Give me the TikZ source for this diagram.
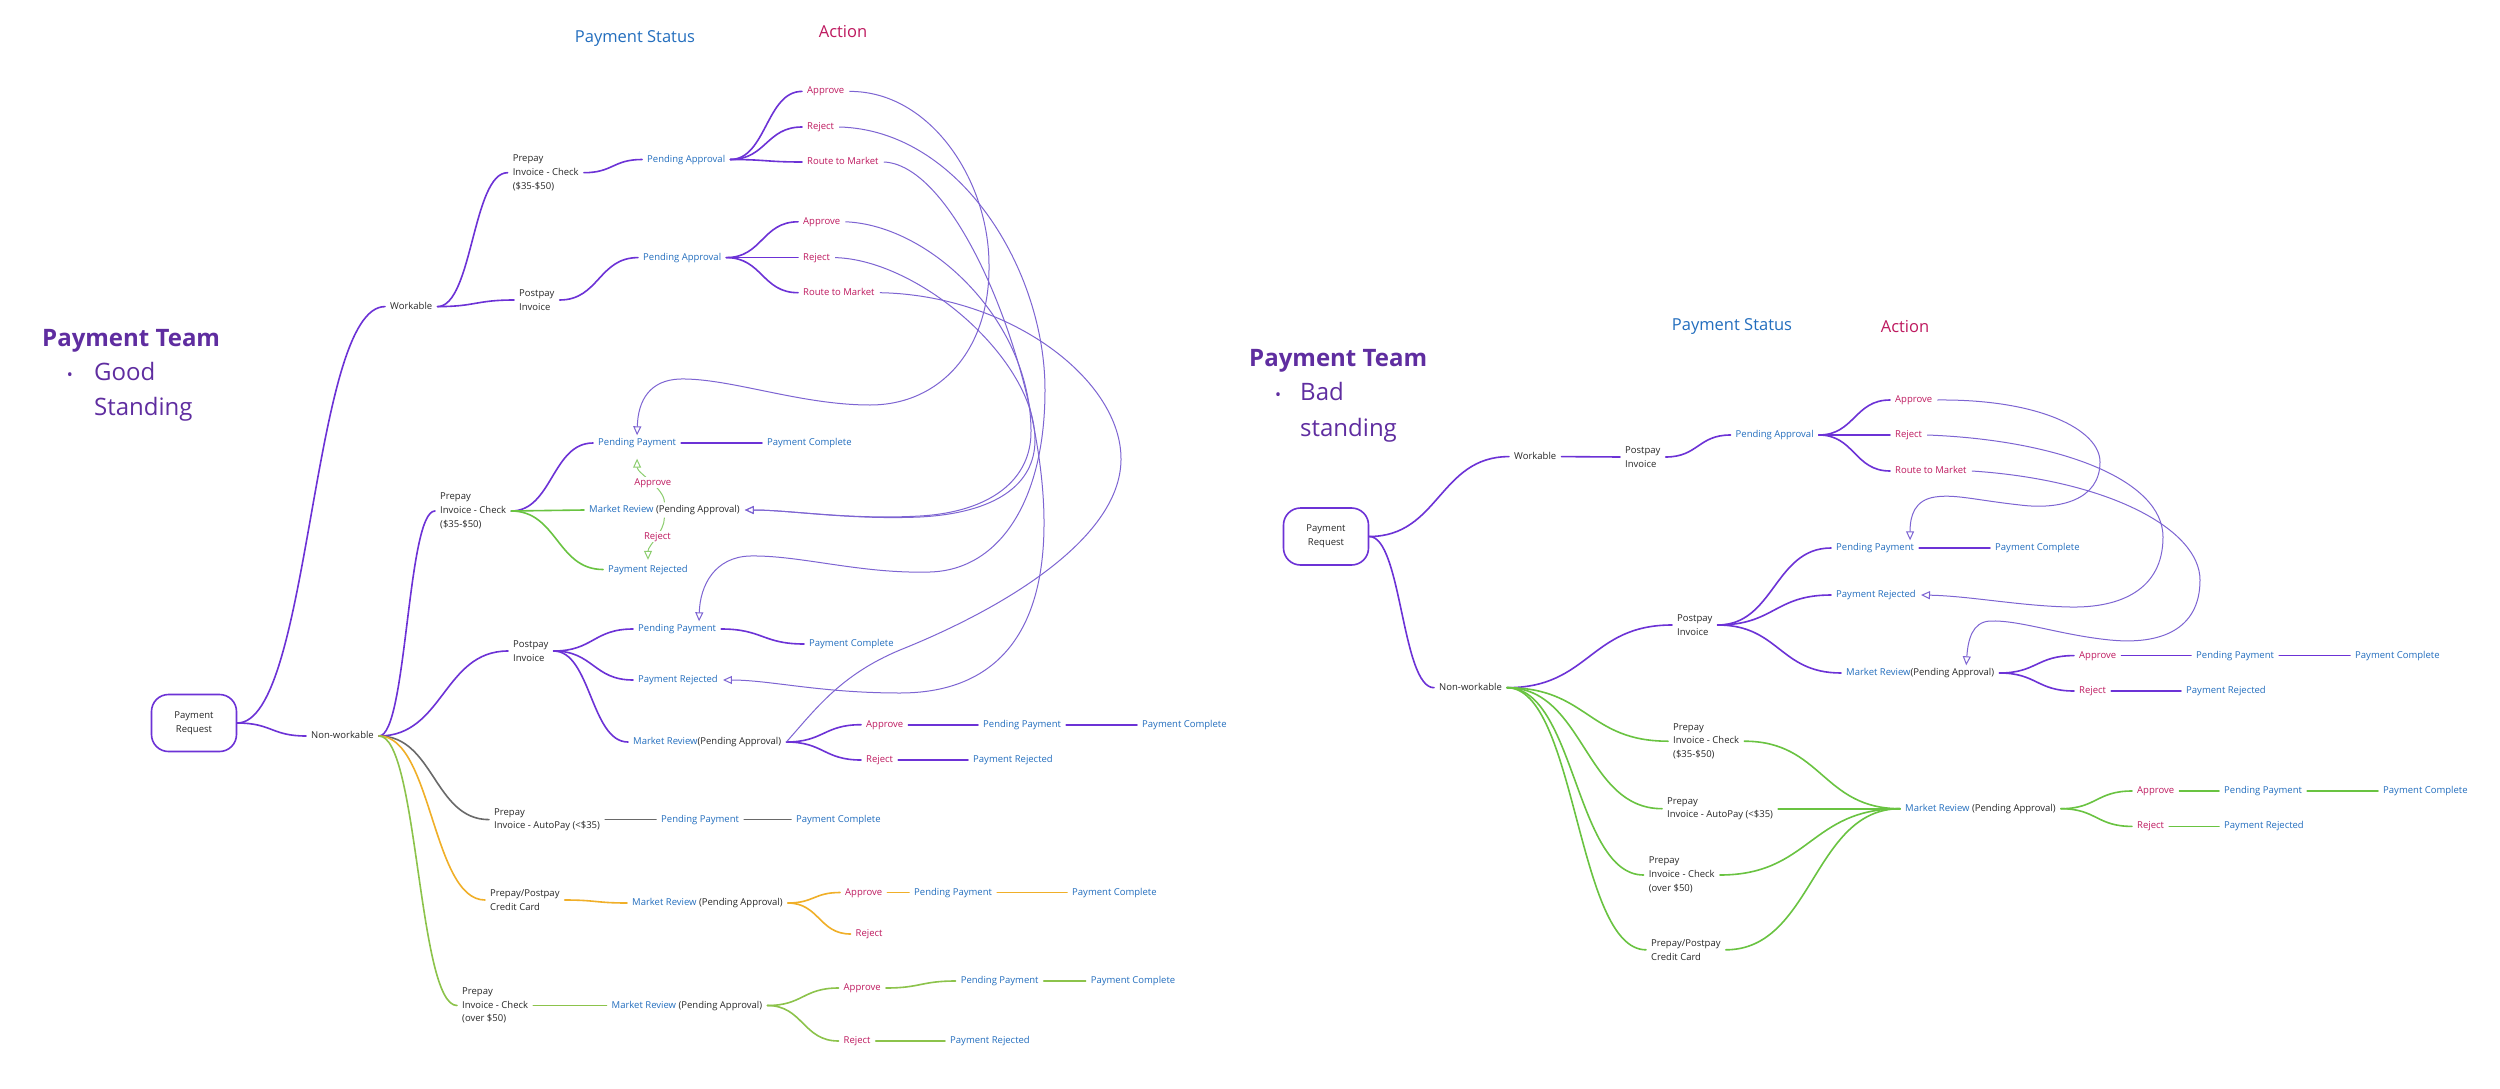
\documentclass[tikz,border=0pt]{standalone}
\usepackage{fontspec}
\setmainfont{Open Sans}
\usetikzlibrary{arrows.meta,calc}

\definecolor{mpurple}{RGB}{108,50,214}
\definecolor{fpurple}{RGB}{125,100,210}
\definecolor{sblue}{RGB}{35,110,190}
\definecolor{amag}{RGB}{190,25,95}
\definecolor{tpurple}{RGB}{95,45,160}
\definecolor{mgreen}{RGB}{105,195,65}
\definecolor{agreen}{RGB}{140,205,110}
\definecolor{lgreen}{RGB}{140,195,75}
\definecolor{morange}{RGB}{240,175,40}
\definecolor{mgray}{RGB}{105,105,105}
\definecolor{ink}{RGB}{40,40,40}

\newcommand{\mrtext}{\textcolor{sblue}{Market Review} (Pending Approval)}
\newcommand{\mrtextb}{\textcolor{sblue}{Market Review}(Pending Approval)}

\tikzset{
 lbase/.style={inner xsep=5pt, inner ysep=3pt, font=\fontsize{9.5}{13.7}\selectfont, anchor=west},
 lb/.style={lbase, text height=7pt, text depth=2pt},
 cat/.style={lb, text=ink},
 mcat/.style={lbase, align=left, text=ink},
 st/.style={lb, text=sblue},
 ac/.style={lb, text=amag},
 mrv/.style={lb, text=ink},
 hd/.style={font=\fontsize{16.5}{20}\selectfont, inner sep=0pt},
 team/.style={font=\fontsize{24}{30}\selectfont\bfseries, text=tpurple, inner sep=0pt, anchor=base west},
 sub/.style={font=\fontsize{24}{30}\selectfont, text=tpurple, inner sep=0pt, anchor=base west},
 bul/.style={font=\fontsize{16}{20}\selectfont, text=tpurple, inner sep=0pt, anchor=base},
 reqbox/.style={draw=mpurple, line width=1.6pt, rounded corners=17pt, minimum width=85pt, minimum height=57pt, align=center, font=\fontsize{9.5}{14}\selectfont, text=ink, inner sep=0pt},
 sc/.style={to path={let \p1=(\tikztostart), \p2=(\tikztotarget) in .. controls ({0.5*\x1+0.5*\x2},\y1) and ({0.5*\x1+0.5*\x2},\y2) .. (\tikztotarget) \tikztonodes}},
 ln/.style={line width=1.6pt, line cap=round},
 lp/.style={ln, draw=mpurple},
 lg/.style={ln, draw=mgreen},
 llg/.style={ln, draw=lgreen},
 lo/.style={ln, draw=morange},
 lgy/.style={ln, draw=mgray},
 fb/.style={draw=fpurple, line width=1pt, -{Triangle[open, length=9pt, width=8pt]}},
 fbn/.style={draw=fpurple, line width=1pt},
 ga/.style={draw=agreen, line width=1pt, -{Triangle[open, length=9pt, width=8pt]}},
 glab/.style={lb, text=amag, fill=white, inner xsep=1pt, inner ysep=1pt, anchor=center},
}

\begin{document}
\begin{tikzpicture}[x=1pt,y=-1pt]
\fill[white] (0,0) rectangle (2500,1089);
\useasboundingbox (0,0) rectangle (2500,1089);

% ================= LEFT: GOOD STANDING =================
\node[hd, text=sblue] (ps1) at (635,39) {Payment Status};
\node[hd, text=amag] (act1) at (843,32) {Action};
\node[team] (tm1) at (42,346) {Payment Team};
\node[bul] (b1) at (70,380) {•};
\node[sub] (g1) at (94,380) {Good};
\node[sub] (g2) at (94,415) {Standing};

\node[reqbox] (pr1) at (194,723) {Payment\\Request};
\node[cat] (wk1) at (385,306.6) {Workable};
\node[cat] (nw1) at (306,736) {Non-workable};

\node[mcat] (pic1) at (507.6,172.7) {Prepay\\Invoice - Check\\(\$35-\$50)};
\node[mcat] (pi1) at (514,300) {Postpay\\Invoice};
\node[st] (pa1) at (642,159.5) {Pending Approval};
\node[st] (pa2) at (638,257.6) {Pending Approval};
\node[ac] (ap1) at (802,91.4) {Approve};
\node[ac] (rj1) at (802,127) {Reject};
\node[ac] (rm1) at (802,162) {Route to Market};
\node[ac] (ap2) at (798,221.8) {Approve};
\node[ac] (rj2) at (798,257.6) {Reject};
\node[ac] (rm2) at (798,292.7) {Route to Market};

\node[mcat] (pic2) at (435,511) {Prepay\\Invoice - Check\\(\$35-\$50)};
\node[st] (pp1) at (593,443) {Pending Payment};
\node[st] (pc1) at (762,443) {Payment Complete};
\node[mrv] (mr1) at (584,510) {\mrtext};
\node[st] (prj1) at (603,569.5) {Payment Rejected};

\node[mcat] (pi2) at (508,651) {Postpay\\Invoice};
\node[st] (pp2) at (633,629) {Pending Payment};
\node[st] (pc2) at (804,644) {Payment Complete};
\node[st] (prj2) at (633,680) {Payment Rejected};
\node[mrv] (mr2) at (628,742) {\mrtextb};
\node[ac] (ap3) at (861,724.7) {Approve};
\node[st] (pp3) at (978,724.7) {Pending Payment};
\node[st] (pc3) at (1137,724.7) {Payment Complete};
\node[ac] (rj3) at (861,760) {Reject};
\node[st] (prj3) at (968,760) {Payment Rejected};

\node[mcat] (pia) at (489,819.6) {Prepay\\Invoice - AutoPay (<\$35)};
\node[st] (pp4) at (656,819.6) {Pending Payment};
\node[st] (pc4) at (791,819.6) {Payment Complete};

\node[mcat] (pcc) at (485,900) {Prepay/Postpay\\Credit Card};
\node[mrv] (mr5) at (627,903) {\mrtext};
\node[ac] (ap5) at (840,892.5) {Approve};
\node[st] (pp5) at (909,892.5) {Pending Payment};
\node[st] (pc5) at (1067,892.5) {Payment Complete};
\node[ac] (rj5) at (850.5,934) {Reject};

\node[mcat] (pio) at (457,1005.5) {Prepay\\Invoice - Check\\(over \$50)};
\node[mrv] (mr6) at (606.5,1005.5) {\mrtext};
\node[ac] (ap6) at (838.5,988) {Approve};
\node[st] (pp6) at (955.6,981) {Pending Payment};
\node[st] (pc6) at (1085.6,981) {Payment Complete};
\node[ac] (rj6) at (838.5,1041) {Reject};
\node[st] (prj6) at (945,1041) {Payment Rejected};

% connectors left
\draw[lp] (pr1.east) to[sc] (wk1.west);
\draw[lp] (pr1.east) to[sc] (nw1.west);
\draw[lp] (wk1.east) to[sc] (pic1.west);
\draw[lp] (wk1.east) to[sc] (pi1.west);
\draw[lp] (pic1.east) to[sc] (pa1.west);
\draw[lp] (pa1.east) to[sc] (ap1.west);
\draw[lp] (pa1.east) to[sc] (rj1.west);
\draw[lp] (pa1.east) to[sc] (rm1.west);
\draw[lp] (pi1.east) to[sc] (pa2.west);
\draw[lp] (pa2.east) to[sc] (ap2.west);
\draw[lp] (pa2.east) to[sc] (rj2.west);
\draw[lp] (pa2.east) to[sc] (rm2.west);

\draw[lp] (nw1.east) to[sc] (pic2.west);
\draw[lp] (nw1.east) to[sc] (pi2.west);
\draw[lgy] (nw1.east) to[sc] (pia.west);
\draw[lo] (nw1.east) to[sc] (pcc.west);
\draw[llg] (nw1.east) to[sc] (pio.west);

\draw[lp] (pic2.east) to[sc] (pp1.west);
\draw[lg] (pic2.east) to[sc] (mr1.west);
\draw[lg] (pic2.east) to[sc] (prj1.west);
\draw[lp] (pp1.east) -- (pc1.west);

\draw[lp] (pi2.east) to[sc] (pp2.west);
\draw[lp] (pi2.east) to[sc] (prj2.west);
\draw[lp] (pi2.east) to[sc] (mr2.west);
\draw[lp] (pp2.east) to[sc] (pc2.west);
\draw[lp] (mr2.east) to[sc] (ap3.west);
\draw[lp] (mr2.east) to[sc] (rj3.west);
\draw[lp] (ap3.east) -- (pp3.west);
\draw[lp] (pp3.east) -- (pc3.west);
\draw[lp] (rj3.east) -- (prj3.west);

\draw[lgy] (pia.east) -- (pp4.west);
\draw[lgy] (pp4.east) -- (pc4.west);

\draw[lo] (pcc.east) to[sc] (mr5.west);
\draw[lo] (mr5.east) to[sc] (ap5.west);
\draw[lo] (mr5.east) to[sc] (rj5.west);
\draw[lo] (ap5.east) -- (pp5.west);
\draw[lo] (pp5.east) -- (pc5.west);

\draw[llg] (pio.east) -- (mr6.west);
\draw[llg] (mr6.east) to[sc] (ap6.west);
\draw[llg] (mr6.east) to[sc] (rj6.west);
\draw[llg] (ap6.east) to[sc] (pp6.west);
\draw[llg] (pp6.east) -- (pc6.west);
\draw[llg] (rj6.east) -- (prj6.west);

% green arrows inside market review
\draw[ga] (mr1.north) .. controls +(0,-14) and +(0,14) .. ([yshift=-8pt]pp1.south) node[glab, pos=0.45] (gap1) {Approve};
\draw[ga] (mr1.south) .. controls +(0,14) and +(0,-14) .. ([yshift=2pt]prj1.north) node[glab, pos=0.45] (grj1) {Reject};

% feedback curves left
\draw[fb] (ap1.east) .. controls (930,91) and (989,180) .. (989,265) .. controls (990,350) and (940,405) .. (870,405) .. controls (800,405) and (730,378) .. (680,379) .. controls (650,380) and (638,400) .. (pp1.north);
\draw[fb] (ap2.east) .. controls (930,225) and (1030,320) .. (1031,430) .. controls (1032,480) and (990,512) .. (920,516) .. controls (850,520) and (790,510) .. (mr1.east);
\draw[fb] (rj2.east) .. controls (920,260) and (1035,360) .. (1035,440) .. controls (1035,485) and (995,513) .. (920,517) .. controls (850,520) and (790,510) .. (mr1.east);
\draw[fb] (rj1.east) .. controls (960,130) and (1045,270) .. (1045,390) .. controls (1045,500) and (1000,570) .. (930,572) .. controls (860,574) and (800,555) .. (750,556) .. controls (715,557) and (700,585) .. ([xshift=22pt]pp2.north);
\draw[fb] (rm1.east) .. controls (960,165) and (1043,380) .. (1044,520) .. controls (1045,640) and (990,693) .. (900,693) .. controls (820,693) and (770,680) .. (prj2.east);
\draw[fbn] (rm2.east) .. controls (1010,295) and (1122,380) .. (1121,460) .. controls (1120,540) and (1000,610) .. (900,650) .. controls (840,675) and (815,710) .. (mr2.east);

% ================= RIGHT: BAD STANDING =================
\node[hd, text=sblue] (ps2) at (1732,327) {Payment Status};
\node[hd, text=amag] (act2) at (1905,327) {Action};
\node[team] (tm2) at (1249,366) {Payment Team};
\node[bul] (b2) at (1278,400) {•};
\node[sub] (g3) at (1300,400) {Bad};
\node[sub] (g4) at (1300,436) {standing};

\node[reqbox] (pr2) at (1326,536.5) {Payment\\Request};
\node[cat] (wk2) at (1509,456.6) {Workable};
\node[mcat] (pi3) at (1620,457) {Postpay\\Invoice};
\node[st] (pa3) at (1730.5,435) {Pending Approval};
\node[ac] (ap7) at (1890,400) {Approve};
\node[ac] (rj7) at (1890,435) {Reject};
\node[ac] (rm7) at (1890,471) {Route to Market};

\node[cat] (nw2) at (1434,687.7) {Non-workable};
\node[mcat] (pi4) at (1672,625) {Postpay\\Invoice};
\node[st] (pp7) at (1831,548) {Pending Payment};
\node[st] (pc7) at (1990,548) {Payment Complete};
\node[st] (prj7) at (1831,595) {Payment Rejected};
\node[mrv] (mr7) at (1841,673) {\mrtextb};
\node[ac] (ap8) at (2074,655.6) {Approve};
\node[st] (pp8) at (2191,655.6) {Pending Payment};
\node[st] (pc8) at (2350,655.6) {Payment Complete};
\node[ac] (rj8) at (2074,691) {Reject};
\node[st] (prj8) at (2181,691) {Payment Rejected};

\node[mcat] (pg1) at (1668,741.2) {Prepay\\Invoice - Check\\(\$35-\$50)};
\node[mcat] (pg2) at (1662,808.7) {Prepay\\Invoice - AutoPay (<\$35)};
\node[mcat] (pg3) at (1643.6,875) {Prepay\\Invoice - Check\\(over \$50)};
\node[mcat] (pg4) at (1646,949.8) {Prepay/Postpay\\Credit Card};
\node[mrv] (mr8) at (1900,808.7) {\mrtext};
\node[ac] (ap9) at (2132,791) {Approve};
\node[st] (pp9) at (2219,791) {Pending Payment};
\node[st] (pc9) at (2378,791) {Payment Complete};
\node[ac] (rj9) at (2132,826.4) {Reject};
\node[st] (prj9) at (2219,826.4) {Payment Rejected};

% connectors right
\draw[lp] (pr2.east) to[sc] (wk2.west);
\draw[lp] (pr2.east) to[sc] (nw2.west);
\draw[lp] (wk2.east) to[sc] (pi3.west);
\draw[lp] (pi3.east) to[sc] (pa3.west);
\draw[lp] (pa3.east) to[sc] (ap7.west);
\draw[lp] (pa3.east) to[sc] (rj7.west);
\draw[lp] (pa3.east) to[sc] (rm7.west);
\draw[lp] (nw2.east) to[sc] (pi4.west);
\draw[lp] (pi4.east) to[sc] (pp7.west);
\draw[lp] (pi4.east) to[sc] (prj7.west);
\draw[lp] (pi4.east) to[sc] (mr7.west);
\draw[lp] (pp7.east) -- (pc7.west);
\draw[lp] (mr7.east) to[sc] (ap8.west);
\draw[lp] (mr7.east) to[sc] (rj8.west);
\draw[lp] (ap8.east) -- (pp8.west);
\draw[lp] (pp8.east) -- (pc8.west);
\draw[lp] (rj8.east) -- (prj8.west);

\draw[lg] (nw2.east) to[sc] (pg1.west);
\draw[lg] (nw2.east) to[sc] (pg2.west);
\draw[lg] (nw2.east) to[sc] (pg3.west);
\draw[lg] (nw2.east) to[sc] (pg4.west);
\draw[lg] (pg1.east) to[sc] (mr8.west);
\draw[lg] (pg2.east) to[sc] (mr8.west);
\draw[lg] (pg3.east) to[sc] (mr8.west);
\draw[lg] (pg4.east) to[sc] (mr8.west);
\draw[lg] (mr8.east) to[sc] (ap9.west);
\draw[lg] (mr8.east) to[sc] (rj9.west);
\draw[lg] (ap9.east) -- (pp9.west);
\draw[lg] (pp9.east) -- (pc9.west);
\draw[lg] (rj9.east) -- (prj9.west);

% feedback curves right
\draw[fb] (ap7.east) .. controls (2040,399) and (2100,430) .. (2100,462) .. controls (2100,500) and (2060,510) .. (2020,505) .. controls (1975,500) and (1955,494) .. (1935,497) .. controls (1915,500) and (1910,515) .. ([xshift=35pt]pp7.north);
\draw[fb] (rj7.east) .. controls (2060,440) and (2163,480) .. (2163,537) .. controls (2163,590) and (2120,608) .. (2070,607) .. controls (2020,606) and (1970,596) .. (prj7.east);
\draw[fb] (rm7.east) .. controls (2110,480) and (2200,530) .. (2200,580) .. controls (2200,630) and (2160,645) .. (2110,640) .. controls (2060,635) and (2020,620) .. (1990,621) .. controls (1972,622) and (1968,640) .. ([xshift=46pt]mr7.north);
\end{tikzpicture}
\end{document}
